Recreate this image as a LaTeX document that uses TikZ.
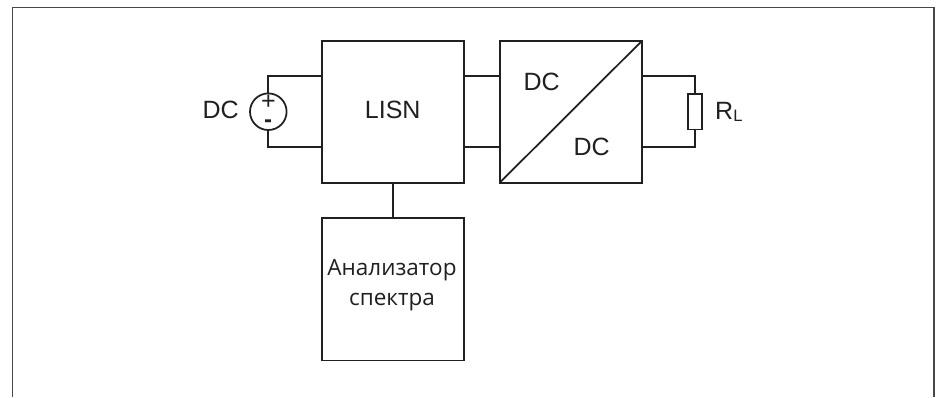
\documentclass[tikz,border=0pt]{standalone}
\usepackage{fontspec}
\setmainfont{Liberation Sans}
\newfontfamily\cyrfont{Open Sans}
\usepackage{tikz}
\usetikzlibrary{positioning,calc}
\definecolor{ink}{HTML}{231F20}
\begin{document}
\begin{tikzpicture}[
  x=1pt,y=-1pt,
  node distance=35.5pt and 35.5pt,
  box/.style={draw=ink,line width=1.75pt,minimum width=142.4pt,minimum height=142pt,inner sep=0pt,outer sep=0pt},
  txt/.style={font=\fontsize{25}{30}\selectfont,text=ink,inner sep=0pt},
  ln/.style={draw=ink,line width=1.75pt}]
\useasboundingbox (0,0) rectangle (939,397);
\fill[white] (0,0) rectangle (939,397);
% frame, open at the bottom
\coordinate (fa) at (12.3,397);
\coordinate (fb) at (12.3,7.8);
\coordinate (fc) at (934,7.8);
\coordinate (fd) at (934,397);
\draw[draw=black!72,line width=1.1pt] (fa) -- (fb) -- (fc) -- (fd);
% blocks
\node[box] (lisn) at (393,111.7) {};
\node[txt] (lisntxt) at (392.7,110) {LISN};
\node[box,right=of lisn] (conv) {};
\node[box,below=of lisn,minimum height=142.4pt] (spec) {};
\node[txt,font=\cyrfont\fontsize{22.5}{30}\selectfont,align=center] (spectxt) at (392,285.5) {Анализатор\\спектра};
\draw[ln] (conv.south west) -- (conv.north east);
\node[txt] (dca) at (541.7,81.7) {DC};
\node[txt] (dcb) at (591.7,146.7) {DC};
% source and load
\node[ln,circle,minimum size=36.6pt,inner sep=0pt,outer sep=0pt] (src) at (268.3,111.7) {};
\node[txt] (dc) at (220.7,110) {DC};
\node[txt] (plus) at (268.3,102) {+};
\node[txt,font=\bfseries\fontsize{24}{24}\selectfont] (minus) at (268,124) {-};
\node[ln,minimum width=13.4pt,minimum height=35.4pt,inner sep=0pt,outer sep=0pt] (load) at (695,111.7) {};
\node[txt,anchor=base west] (rl) at (715,119) {R\raisebox{-2pt}{\fontsize{16.5}{16.5}\selectfont L}};
% leads
\coordinate (la) at ([yshift=35.6pt]lisn.west);
\coordinate (lb) at ([yshift=-35.6pt]lisn.west);
\coordinate (lc) at ([yshift=35.6pt]lisn.east);
\coordinate (ld) at ([yshift=-35.6pt]lisn.east);
\coordinate (ca) at ([yshift=35.6pt]conv.west);
\coordinate (cb) at ([yshift=-35.6pt]conv.west);
\coordinate (cc) at ([yshift=35.6pt]conv.east);
\coordinate (cd) at ([yshift=-35.6pt]conv.east);
\draw[ln] (src.north) |- (la);
\draw[ln] (src.south) |- (lb);
\draw[ln] (lc) -- (ca);
\draw[ln] (ld) -- (cb);
\draw[ln] (load.north) |- (cc);
\draw[ln] (load.south) |- (cd);
\draw[ln] (lisn.south) -- (spec.north);
\end{tikzpicture}
\end{document}
